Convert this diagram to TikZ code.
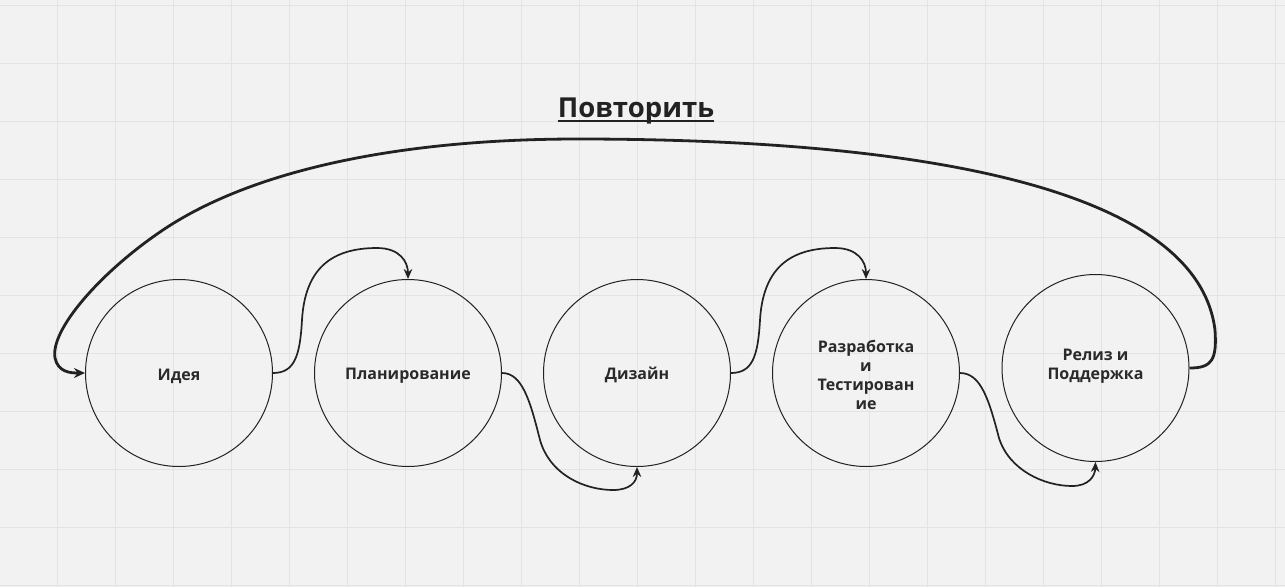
\documentclass[tikz,border=0pt]{standalone}
\usepackage{fontspec}
\setmainfont{Open Sans}
\usetikzlibrary{arrows.meta}
\definecolor{bg}{HTML}{F2F2F2}
\definecolor{gridc}{HTML}{E3E3E3}
\definecolor{inkc}{HTML}{222222}
\definecolor{txtc}{HTML}{2A2A2A}
\tikzset{
  stage/.style={circle, draw=inkc, line width=1pt, minimum size=187pt, inner sep=0pt},
  stagetext/.style={font=\fontsize{16}{19}\selectfont\bfseries, text=txtc, align=center, inner sep=0pt},
  flow/.style={draw=inkc, line width=1.7pt, -{Stealth[length=10pt,width=8.5pt]}},
  loopflow/.style={draw=inkc, line width=2.8pt, -{Stealth[length=11pt,width=10pt]}},
  titletext/.style={font=\fontsize{27.5}{30}\selectfont\bfseries, text=inkc, inner sep=0pt}
}
\begin{document}
\begin{tikzpicture}[x=1pt,y=-1pt]
\fill[bg] (0,0) rectangle (1285,587);
\useasboundingbox (0,0) rectangle (1285,587);
\foreach \i in {0,...,22} {\draw[gridc, line width=1pt] ({57.3+58*(\i-1)},0) -- ({57.3+58*(\i-1)},587);}
\foreach \j in {0,...,10} {\draw[gridc, line width=1pt] (0,{5.7+58*\j}) -- (1285,{5.7+58*\j});}

\node[stage] (idea) at (179,373) {};
\node[stage] (plan) at (408,373) {};
\node[stage] (dz) at (637,373) {};
\node[stage] (dev) at (866,373) {};
\node[stage] (rel) at (1095.5,368) {};

\node[stagetext] (ideaT) at (179,376) {Идея};
\node[stagetext] (planT) at (408,376) {Планирование};
\node[stagetext] (dzT) at (637,375) {Дизайн};
\node[stagetext] (devT) at (866,374.5) {Разработка\\и\\Тестирован\\ие};
\node[stagetext] (relT) at (1095.5,366) {Релиз и\\Поддержка};

\node[titletext, anchor=base] (title) at (636,117) {Повторить};
\draw[inkc, line width=2pt] ([yshift=-3.5pt]title.base west) -- ([yshift=-3.5pt]title.base east);

\draw[flow] (idea.east) .. controls (295,373) and (300,355) .. (302,320)
  .. controls (305,270) and (330,248) .. (377,248)
  .. controls (400,248) and (408,262) .. (plan.north);
\draw[flow] (plan.east) .. controls (522,373) and (530,400) .. (540,440)
  .. controls (550,475) and (585,490) .. (613,490)
  .. controls (630,490) and (637,482) .. (dz.south);
\draw[flow] (dz.east) .. controls (753,373) and (758,355) .. (760,320)
  .. controls (763,270) and (788,248) .. (835,248)
  .. controls (858,248) and (866,262) .. (dev.north);
\draw[flow] (dev.east) .. controls (981,373) and (989,400) .. (999,438)
  .. controls (1009,470) and (1044,486) .. (1072,486)
  .. controls (1089,486) and (1095,476) .. (rel.south);
\draw[loopflow] (rel.east) .. controls (1212,368) and (1217,360) .. (1215,330)
  .. controls (1195,170) and (850,139) .. (578,139)
  .. controls (400,139) and (250,170) .. (160,232)
  .. controls (100,273) and (50,330) .. (55,358)
  .. controls (58,372) and (70,373) .. (idea.west);
\end{tikzpicture}
\end{document}
